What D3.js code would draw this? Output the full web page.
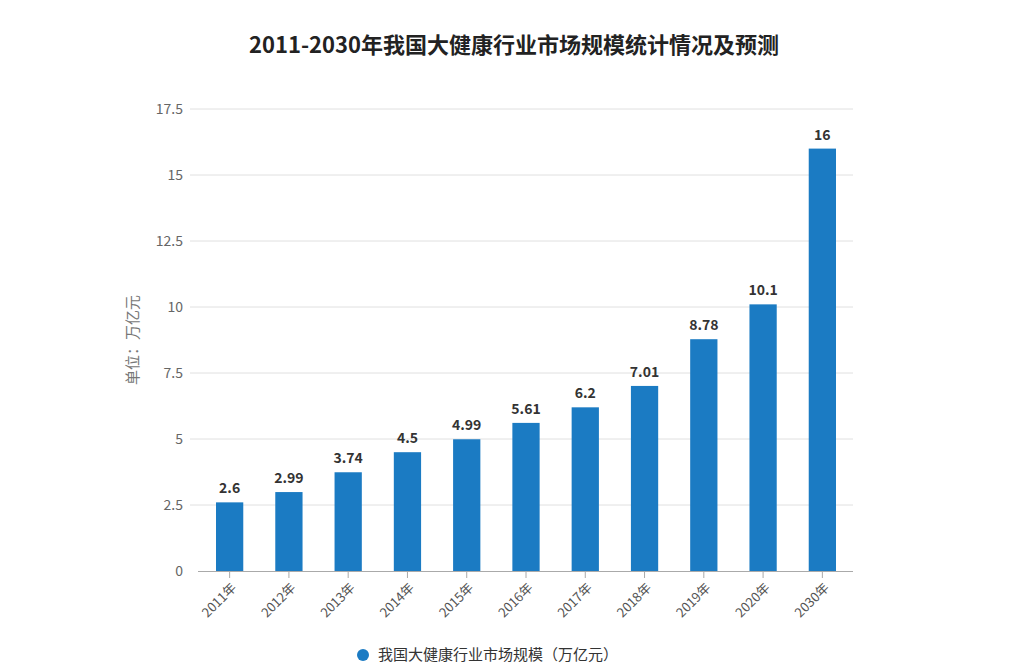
<!DOCTYPE html>
<html>
<head>
<meta charset="utf-8">
<script src="https://cdn.jsdelivr.net/npm/d3@7"></script>
<style>
  body { margin: 0; background: #fff; }
  text { font-family: "Noto Sans CJK SC", "Noto Sans", sans-serif; }
</style>
</head>
<body>
<div id="chart"></div>
<script>
const years = ["2011年", "2012年", "2013年", "2014年", "2015年", "2016年", "2017年", "2018年", "2019年", "2020年", "2030年"];
const values = [2.6, 2.99, 3.74, 4.5, 4.99, 5.61, 6.2, 7.01, 8.78, 10.1, 16];
const yTicks = [0, 2.5, 5, 7.5, 10, 12.5, 15, 17.5];

const W = 1028, H = 663;
const svg = d3.select("#chart").append("svg")
    .attr("width", W)
    .attr("height", H);

// title
svg.append("text")
    .attr("x", 514)
    .attr("y", 53)
    .attr("text-anchor", "middle")
    .attr("font-size", 22)
    .attr("font-weight", "bold")
    .attr("fill", "#222")
    .text("2011-2030年我国大健康行业市场规模统计情况及预测");

const x = d3.scaleBand()
    .domain(years)
    .range([200, 852])
    .paddingInner(0.54)
    .paddingOuter(0.27);

const y = d3.scaleLinear()
    .domain([0, 17.5])
    .range([571, 109]);

// gridlines
svg.append("g")
    .selectAll("line")
    .data(yTicks.slice(1))
    .enter().append("line")
    .attr("x1", 190)
    .attr("x2", 853)
    .attr("y1", d => y(d))
    .attr("y2", d => y(d))
    .attr("stroke", "#e0e0e0")
    .attr("stroke-width", 1);

// y labels
svg.append("g")
    .selectAll("text")
    .data(yTicks)
    .enter().append("text")
    .attr("x", 183)
    .attr("y", d => y(d))
    .attr("dy", "0.35em")
    .attr("text-anchor", "end")
    .attr("font-size", 14)
    .attr("fill", "#666")
    .text(d => d);

// y title
svg.append("text")
    .attr("transform", "translate(138,340)rotate(-90)")
    .attr("text-anchor", "middle")
    .attr("font-size", 15)
    .attr("fill", "#777")
    .text("单位：万亿元");

// bars
svg.append("g")
    .selectAll("rect")
    .data(values)
    .enter().append("rect")
    .attr("x", (d, i) => x(years[i]))
    .attr("y", d => y(d))
    .attr("width", x.bandwidth())
    .attr("height", d => y(0) - y(d))
    .attr("fill", "#1b7bc3");

// value labels
svg.append("g")
    .selectAll("text")
    .data(values)
    .enter().append("text")
    .attr("x", (d, i) => x(years[i]) + x.bandwidth() / 2)
    .attr("y", d => y(d) - 9)
    .attr("text-anchor", "middle")
    .attr("font-size", 14)
    .attr("font-weight", "bold")
    .attr("fill", "#333")
    .text(d => d);

// x axis
const xAxis = svg.append("g")
    .attr("transform", `translate(0,${y(0)})`)
    .call(d3.axisBottom(x).tickSize(7).tickSizeOuter(0));
xAxis.select(".domain").attr("stroke", "#aaa").attr("d", "M198,0.5H853");
xAxis.selectAll(".tick line").attr("stroke", "#aaa");
xAxis.selectAll("text")
    .attr("font-size", 13)
    .attr("fill", "#555")
    .attr("font-family", "\"Noto Sans CJK SC\", sans-serif")
    .attr("transform", "translate(-6,4)rotate(-45)")
    .style("text-anchor", "end");

// legend
svg.append("circle")
    .attr("cx", 363)
    .attr("cy", 655)
    .attr("r", 6)
    .attr("fill", "#1b7bc3");
svg.append("text")
    .attr("x", 378)
    .attr("y", 660)
    .attr("font-size", 15)
    .attr("fill", "#333")
    .text("我国大健康行业市场规模（万亿元）");
</script>
</body>
</html>
